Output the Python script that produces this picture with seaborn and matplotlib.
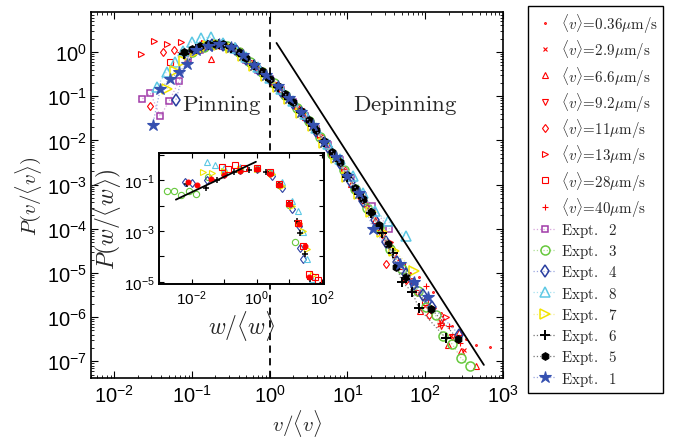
import numpy as np
import matplotlib
matplotlib.use("Agg")
import matplotlib.pyplot as plt
import seaborn as sns
from matplotlib.ticker import NullLocator, LogLocator, NullFormatter

# ---- main panel data: P(v/<v>) for each run ----
v036_x = [0.316, 0.631, 1.26, 2.51, 5.01, 10, 20, 39.8, 63.1, 84, 126, 158, 224, 339, 447, 676]
v036_y = [1.26, 0.525, 0.174, 0.048, 0.01, 1.78e-3, 2.63e-4, 3.55e-5, 1.0e-5, 7.9e-6, 3.8e-6,
          1.26e-6, 6.3e-7, 3.2e-7, 2.3e-7, 2.1e-7]
v29_x = [0.126, 0.251, 0.501, 1.0, 2.0, 3.98, 7.94, 15.8, 31.6, 63.1, 100, 151, 214, 316]
v29_y = [1.2, 1.38, 0.676, 0.234, 0.0676, 0.0158, 2.95e-3, 3.98e-4, 5.0e-5, 7.1e-6, 1.78e-6,
         6.6e-7, 3.8e-7, 1.78e-7]
v66_x = [0.174, 0.1, 0.2, 0.355, 0.708, 1.41, 2.82, 5.62, 11.2, 22.4, 44.7, 85, 158, 195, 275, 290, 457]
v66_y = [0.69, 1.0, 1.58, 1.26, 0.437, 0.141, 0.034, 7.4e-3, 1.05e-3, 1.58e-4, 1.78e-5, 1.35e-6,
         7.6e-7, 2.3e-7, 4.7e-7, 1.7e-7, 7.8e-8]
v92_x = [0.079, 0.158, 0.316, 0.631, 1.26, 2.51, 5.01, 10, 20, 39.8, 79.4, 158, 224]
v92_y = [0.79, 1.41, 1.32, 0.48, 0.158, 0.047, 8.9e-3, 1.48e-3, 2.2e-4, 2.5e-5, 3.55e-6, 6.3e-7, 3.55e-7]
v11_x = [0.029, 0.042, 0.059, 0.112, 0.224, 0.447, 0.891, 1.78, 3.55, 7.08, 14.1, 28.2, 31.6, 56.2, 112, 158]
v11_y = [0.059, 1.0, 1.12, 1.2, 1.41, 0.83, 0.282, 0.083, 0.02, 3.8e-3, 5.6e-4, 7.6e-5, 1.58e-5,
         7.1e-6, 1.12e-6, 8.9e-7]
v13_x = [0.022, 0.032, 0.048, 0.071, 0.141, 0.282, 0.562, 1.12, 2.24, 4.47, 8.91, 17.8, 35.5, 70.8, 126, 186]
v13_y = [0.9, 1.8, 1.5, 1.66, 1.58, 1.45, 0.63, 0.2, 0.06, 0.0132, 2.4e-3, 3.55e-4, 5.0e-5, 6.6e-6,
         1.58e-6, 1.0e-6]
v28_x = [0.052, 0.1, 0.2, 0.398, 0.794, 1.58, 3.16, 6.31, 12.6, 25.1, 50.1, 100]
v28_y = [0.6, 1.12, 1.45, 1.07, 0.372, 0.107, 0.0263, 5.0e-3, 7.9e-4, 1.12e-4, 1.41e-5, 2.24e-6]
v40_x = [0.07, 0.141, 0.282, 0.562, 1.12, 2.24, 4.47, 8.91, 17.8, 35.5, 70.8, 102, 200, 282]
v40_y = [1.0, 1.32, 1.38, 0.575, 0.209, 0.056, 0.012, 2.24e-3, 3.3e-4, 4.2e-5, 6.3e-6, 5.1e-6,
         6.3e-7, 2.6e-7]

e2_x = [0.023, 0.029, 0.039, 0.051, 0.068, 0.089, 0.126, 0.178, 0.251, 0.355, 0.501, 0.708, 1.0,
        1.41, 2.0, 2.82, 3.98, 5.62, 7.94, 11.2, 15.8, 20.4, 34.7]
e2_y = [0.087, 0.118, 0.035, 0.079, 0.22, 0.71, 1.12, 1.41, 1.38, 1.12, 0.66, 0.398, 0.24, 0.135,
        0.074, 0.036, 0.018, 7.9e-3, 3.55e-3, 1.41e-3, 5.6e-4, 3.3e-4, 1.0e-4]
e3_x = [0.1, 0.141, 0.2, 0.282, 0.398, 0.562, 0.794, 1.12, 1.58, 2.24, 3.16, 4.47, 6.31, 8.91,
        12.6, 17.8, 25.1, 35.5, 50.1, 80, 103, 136, 168, 223, 290, 380]
e3_y = [1.0, 1.32, 1.48, 1.38, 1.0, 0.59, 0.347, 0.2, 0.107, 0.055, 0.0269, 0.012, 5.0e-3, 2.1e-3,
        7.9e-4, 3.0e-4, 1.1e-4, 3.55e-5, 1.26e-5, 4.0e-6, 1.66e-6, 1.12e-6, 3.8e-7, 2.45e-7,
        1.17e-7, 7.8e-8]
e4_x = [0.062, 0.089, 0.126, 0.178, 0.251, 0.355, 0.501, 0.708, 1.0, 1.41, 2.0, 2.82, 3.98, 5.62,
        7.94, 11.2, 15.8, 22.4, 31.6, 43.6, 56.2, 72.4, 93.3, 123, 275]
e4_y = [0.083, 0.79, 1.2, 1.45, 1.41, 1.15, 0.69, 0.407, 0.24, 0.132, 0.069, 0.0347, 0.0162,
        6.9e-3, 3.0e-3, 1.12e-3, 4.3e-4, 1.58e-4, 5.0e-5, 1.78e-5, 9.5e-6, 5.6e-6, 3.2e-6,
        1.74e-6, 4.0e-7]
e8_x = [0.035, 0.047, 0.06, 0.077, 0.099, 0.13, 0.175, 0.251, 0.355, 0.501, 0.708, 1.0, 1.41, 2.0,
        2.82, 3.98, 5.62, 7.94, 11.8, 15.8, 22.4, 33, 56]
e8_y = [0.16, 0.36, 0.6, 1.07, 1.7, 2.1, 2.15, 1.58, 1.26, 0.76, 0.447, 0.263, 0.145, 0.079, 0.04,
        0.019, 8.3e-3, 3.8e-3, 1.58e-3, 6.3e-4, 2.5e-4, 1.5e-4, 6.8e-5]
e7_x = [0.048, 0.06, 0.079, 0.112, 0.158, 0.224, 0.316, 0.447, 0.631, 0.891, 1.26, 1.78, 2.51,
        3.55, 5.01, 7.08, 10, 14.1, 20, 28.2, 39.8, 72.4]
e7_y = [0.145, 0.38, 0.63, 1.0, 1.35, 1.41, 1.23, 0.83, 0.49, 0.282, 0.158, 0.085, 0.0427, 0.0209,
        8.9e-3, 4.0e-3, 1.51e-3, 6.0e-4, 2.4e-4, 8.3e-5, 3.2e-5, 1.12e-5]
e6_x = [0.079, 0.112, 0.158, 0.224, 0.316, 0.447, 0.631, 0.891, 1.26, 1.78, 2.51, 3.55, 5.01,
        7.08, 10, 14.1, 20, 28.2, 38, 50, 67.6, 83, 186]
e6_y = [0.89, 1.15, 1.41, 1.48, 1.26, 0.83, 0.5, 0.288, 0.162, 0.087, 0.0437, 0.0214, 9.1e-3,
        4.1e-3, 1.51e-3, 6.0e-4, 2.3e-4, 7.9e-5, 2.8e-5, 6.3e-6, 3.8e-6, 1.58e-6, 3.3e-7]
e5_x = [0.079, 0.1, 0.126, 0.158, 0.2, 0.251, 0.316, 0.398, 0.501, 0.631, 0.794, 1.0, 1.26, 1.58,
        2.0, 2.51, 3.16, 3.98, 5.01, 6.31, 7.94, 10, 12.6, 15.8, 20, 25.1, 33, 41.7, 56.2, 120, 263]
e5_y = [1.0, 1.17, 1.38, 1.51, 1.55, 1.48, 1.29, 1.02, 0.72, 0.513, 0.363, 0.251, 0.17, 0.112,
        0.0724, 0.0457, 0.0282, 0.017, 9.5e-3, 5.5e-3, 3.16e-3, 1.62e-3, 8.5e-4, 4.6e-4, 2.4e-4,
        1.2e-4, 4.6e-5, 1.35e-5, 7.9e-6, 1.55e-6, 3.2e-7]
e1_x = [0.031, 0.039, 0.052, 0.068, 0.085, 0.112, 0.158, 0.224, 0.316, 0.447, 0.631, 0.891, 1.26,
        1.78, 2.51, 3.55, 5.01, 7.08, 10, 14.1, 21.5, 47, 70.8, 108]
e1_y = [0.022, 0.145, 0.25, 0.35, 0.54, 1.12, 1.38, 1.48, 1.29, 0.85, 0.5, 0.295, 0.166, 0.089,
        0.0447, 0.0219, 9.3e-3, 4.2e-3, 1.58e-3, 6.3e-4, 1.0e-4, 1.58e-5, 6.3e-6, 2.8e-6]

# guide lines
guide_x = [1.22, 569]
guide_y = [1.6, 8.3e-8]

# ---- inset data: P(w/<w>) ----
w_green_x = [0.0017, 0.0028, 0.0049, 0.0084, 0.014, 0.0316, 0.1, 0.316, 1.0, 2.51, 5.01, 10, 15]
w_green_y = [0.038, 0.036, 0.026, 0.038, 0.028, 0.126, 0.19, 0.25, 0.27, 0.19, 0.063, 0.0107, 3.6e-4]
w_blue_x = [0.0062, 0.01, 0.03, 0.1, 0.3, 1.0, 3.0, 6.0, 12, 20, 21.9, 27]
w_blue_y = [0.085, 0.074, 0.1, 0.18, 0.24, 0.26, 0.15, 0.05, 7e-3, 1.5e-3, 2.1e-4, 7.9e-5]
w_cyan_x = [0.029, 0.052, 0.1, 0.3, 1.0, 3.0, 6.0, 12, 19, 27, 35, 49]
w_cyan_y = [0.49, 0.39, 0.3, 0.32, 0.3, 0.2, 0.08, 0.015, 6.3e-3, 9e-4, 7.9e-5, 1.3e-5]
w_yellow_x = [0.023, 0.042, 0.1, 0.3, 1.0, 3.0, 6.0, 12, 20, 27, 35, 54]
w_yellow_y = [0.21, 0.19, 0.22, 0.26, 0.28, 0.17, 0.06, 0.01, 2e-3, 1.0e-3, 2e-4, 1.8e-5]
w_rsq_x = [0.085, 0.135, 0.21, 0.4, 1.0, 2.5, 5.0, 10, 18, 26, 40, 62, 79]
w_rsq_y = [0.32, 0.26, 0.39, 0.3, 0.3, 0.2, 0.07, 0.012, 2e-3, 2.5e-4, 2e-5, 1.5e-5, 1.2e-5]
w_plus_x = [0.0075, 0.028, 0.06, 0.2, 0.6, 2.0, 5.0, 10, 17, 22, 30, 45]
w_plus_y = [0.07, 0.047, 0.1, 0.2, 0.25, 0.2, 0.07, 0.012, 2.5e-3, 8e-4, 1.2e-4, 1.3e-5]
w_rdot_x = [0.008, 0.015, 0.04, 0.1, 0.3, 1.0, 2.5, 5.0, 10, 20, 30, 40]
w_rdot_y = [0.08, 0.062, 0.11, 0.16, 0.22, 0.26, 0.17, 0.065, 0.011, 1.8e-3, 2.5e-4, 1.6e-5]
wguide_x = [0.0033, 0.95]
wguide_y = [0.017, 0.52]

main_xexp = [-2, -1, 0, 1, 2, 3]
main_yexp = [-7, -6, -5, -4, -3, -2, -1, 0]
ins_xexp = [-3, -2, -1, 0, 1, 2]
ins_xlab = [-2, 0, 2]
ins_yexp = [-5, -4, -3, -2, -1, 0]
ins_ylab = [-5, -3, -1]

RED = "#ff0000"

sns.set_style("ticks")
plt.rcParams["font.family"] = ["DejaVu Sans"]
plt.rcParams["mathtext.fontset"] = "cm"
# sans maths used only for the tick numbers
plt.rcParams["mathtext.rm"] = "Liberation Sans"
plt.rcParams["mathtext.it"] = "Liberation Sans:italic"
plt.rcParams["mathtext.bf"] = "Liberation Sans:bold"
plt.rcParams["mathtext.sf"] = "Liberation Sans"


def draw(ax, x, y, marker, color, ms, label=None, mfc="none", line=None, mew=0.8):
    sns.lineplot(x=x, y=y, ax=ax, sort=False, estimator=None, legend=False,
                 label=label, color=line if line else color,
                 linestyle=":" if line else "none", linewidth=0.9,
                 marker=marker, markersize=ms, markeredgecolor=color,
                 markerfacecolor=mfc, markeredgewidth=mew)


def set_log_ticks(axis_set, ticks_set, exps, shown, size):
    ticks_set([10.0 ** e for e in exps])
    texts = axis_set([r"$10^{%d}$" % e if e in shown else "" for e in exps], fontsize=size)
    for t in texts:
        t.set_math_fontfamily("custom")


fig = plt.figure(figsize=(6.82, 4.39), dpi=100)
ax = fig.add_axes([0.1334, 0.1367, 0.604, 0.833])
ax.set_xscale("log")
ax.set_yscale("log")

vel = r"$\langle v\rangle\!=\!%s\mu\mathrm{m/s}$"
draw(ax, v036_x, v036_y, ".", RED, 2.5, vel % "0.36")
draw(ax, v29_x, v29_y, "x", RED, 3, vel % "2.9")
draw(ax, v66_x, v66_y, "^", RED, 4.5, vel % "6.6")
draw(ax, v92_x, v92_y, "v", RED, 4.5, vel % "9.2")
draw(ax, v11_x, v11_y, "d", RED, 4.5, vel % "11")
draw(ax, v13_x, v13_y, ">", RED, 4.5, vel % "13")
draw(ax, v28_x, v28_y, "s", RED, 3.8, vel % "28")
draw(ax, v40_x, v40_y, "+", RED, 4.5, vel % "40")

draw(ax, e2_x, e2_y, "s", "#a03aa8", 5, r"$\mathrm{Expt.\ \ 2}$", line="#d8a6dc", mew=1.1)
draw(ax, e3_x, e3_y, "o", "#66c83c", 6.5, r"$\mathrm{Expt.\ \ 3}$", line="#b0e096", mew=1.1)
draw(ax, e4_x, e4_y, "d", "#2a3fa0", 6.5, r"$\mathrm{Expt.\ \ 4}$", line="#9aa6e0", mew=1.1)
draw(ax, e8_x, e8_y, "^", "#5cc8e4", 6.5, r"$\mathrm{Expt.\ \ 8}$", line="#a8e2f0", mew=1.1)
draw(ax, e7_x, e7_y, ">", "#f2e400", 6.5, r"$\mathrm{Expt.\ \ 7}$", line="#f6f096", mew=1.1)
draw(ax, e6_x, e6_y, "+", "black", 7, r"$\mathrm{Expt.\ \ 6}$", line="#777777", mew=1.4)
draw(ax, e5_x, e5_y, "h", "black", 5.5, r"$\mathrm{Expt.\ \ 5}$", mfc="black", line="#777777")
draw(ax, e1_x, e1_y, "*", "#3550b0", 9, r"$\mathrm{Expt.\ \ 1}$", mfc="#3550b0", line="#9aa6e0")

ax.plot(guide_x, guide_y, color="black", lw=1.3)
ax.axvline(1, color="black", ls=(0, (4, 3)), lw=1.3)

ax.text(0.24, 0.066, r"$\mathrm{Pinning}$", fontsize=16.5, ha="center", va="center")
ax.text(56, 0.066, r"$\mathrm{Depinning}$", fontsize=16.5, ha="center", va="center")

ax.set_xlim(0.005, 1000)
ax.set_ylim(4.2e-8, 7.9)
set_log_ticks(ax.set_xticklabels, ax.set_xticks, main_xexp, main_xexp, 14.5)
set_log_ticks(ax.set_yticklabels, ax.set_yticks, main_yexp, main_yexp, 14.5)
ax.xaxis.set_minor_locator(LogLocator(base=10, subs=np.arange(2, 10), numticks=20))
ax.yaxis.set_minor_locator(LogLocator(base=10, subs=np.arange(2, 10), numticks=20))
ax.xaxis.set_minor_formatter(NullFormatter())
ax.yaxis.set_minor_formatter(NullFormatter())
ax.tick_params(which="both", direction="in", top=True, right=True, colors="black")
ax.tick_params(which="major", length=5, width=0.8)
ax.tick_params(axis="x", which="major", pad=4)
ax.tick_params(axis="y", which="major", pad=3)
ax.tick_params(which="minor", length=2.5, width=0.6)
for s in ax.spines.values():
    s.set_linewidth(1.2)
    s.set_color("black")
ax.set_xlabel(r"$v/\langle v\rangle$", fontsize=15, labelpad=1)
ax.set_ylabel(r"$P(v/\langle v\rangle)$", fontsize=15, labelpad=2)

handles, labels = ax.get_legend_handles_labels()
leg = fig.legend(handles, labels, loc="upper left", bbox_to_anchor=(528 / 682, 1 - 7 / 439),
                 frameon=True, fancybox=False, edgecolor="black", framealpha=1,
                 fontsize=10.8, labelspacing=0.215, handlelength=1.5, handletextpad=0.35,
                 borderpad=0.35, borderaxespad=0)
leg.get_frame().set_linewidth(1.0)

# ---- inset ----
ax2 = fig.add_axes([159 / 682, 1 - 285 / 439, 165 / 682, 131 / 439])
ax2.set_xscale("log")
ax2.set_yscale("log")
draw(ax2, w_green_x, w_green_y, "o", "#66c83c", 4.5)
draw(ax2, w_blue_x, w_blue_y, "d", "#2a3fa0", 4.5)
draw(ax2, w_cyan_x, w_cyan_y, "^", "#5cc8e4", 4.5)
draw(ax2, w_yellow_x, w_yellow_y, ">", "#f2e400", 4.5)
draw(ax2, w_plus_x, w_plus_y, "+", "black", 5, mew=1.1)
draw(ax2, w_rsq_x, w_rsq_y, "s", RED, 4)
draw(ax2, w_rdot_x, w_rdot_y, "o", RED, 3.5, mfc=RED)
ax2.plot(wguide_x, wguide_y, color="black", lw=1.3)
ax2.set_xlim(1e-3, 117)
ax2.set_ylim(8.3e-6, 1.15)
set_log_ticks(ax2.set_xticklabels, ax2.set_xticks, ins_xexp, ins_xlab, 11)
set_log_ticks(ax2.set_yticklabels, ax2.set_yticks, ins_yexp, ins_ylab, 11)
ax2.xaxis.set_minor_locator(NullLocator())
ax2.yaxis.set_minor_locator(NullLocator())
ax2.tick_params(which="both", direction="in", top=True, right=True, length=3.5,
                colors="black", pad=3)
for s in ax2.spines.values():
    s.set_linewidth(1.4)
    s.set_color("black")
ax2.set_xlabel(r"$w/\langle w\rangle$", fontsize=17, labelpad=1)
ax2.set_ylabel(r"$P(w/\langle w\rangle)$", fontsize=17, labelpad=1)

fig.savefig("out.png", dpi=100)
